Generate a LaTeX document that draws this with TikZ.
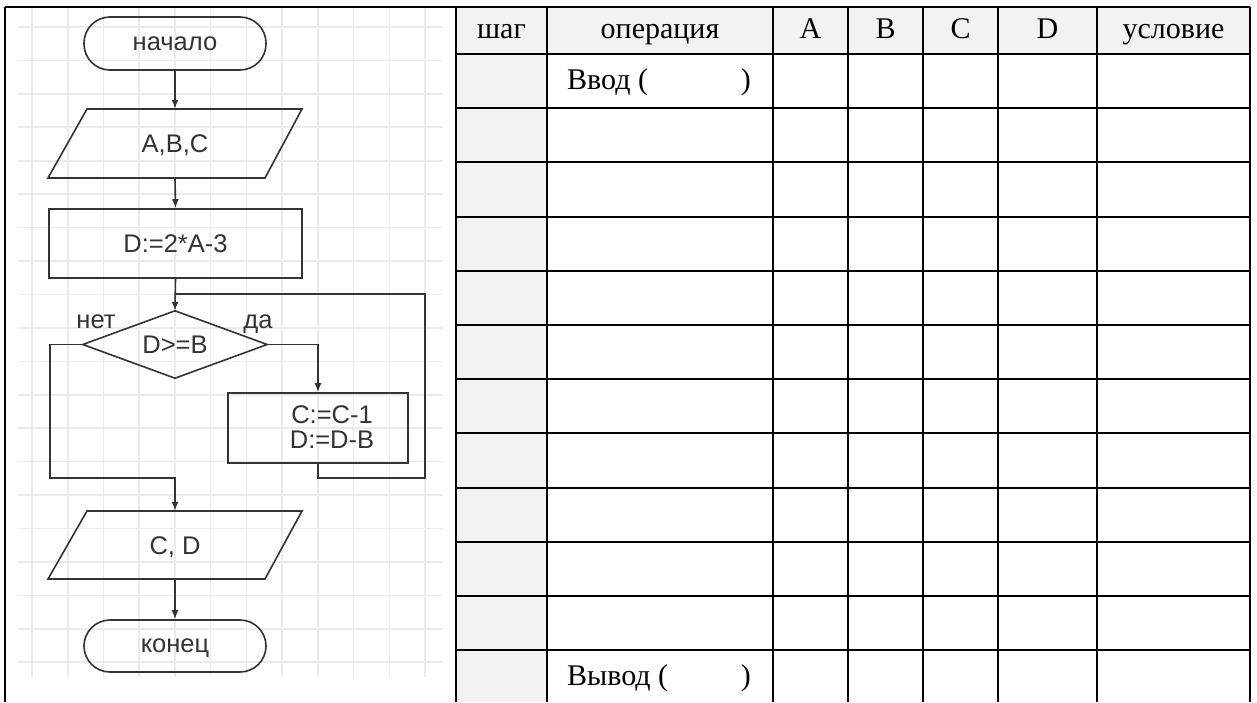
\documentclass[tikz,border=0pt]{standalone}
\usepackage{fontspec}
\setmainfont{Liberation Serif}
\newfontfamily\flowfont{Liberation Sans}
\usetikzlibrary{arrows.meta,calc}
\definecolor{gridc}{HTML}{EBEBEB}
\definecolor{ink}{HTML}{333333}
\definecolor{hdr}{HTML}{F2F2F2}
\begin{document}
\begin{tikzpicture}[x=1pt,y=-1pt,
  fc/.style={draw=ink, line width=1.6pt, text=ink, font=\flowfont\fontsize{25.5}{25}\selectfont, inner sep=0pt},
  term/.style={fc, rectangle, rounded corners=26pt, minimum width=182pt, minimum height=53pt},
  procbox/.style={fc, rectangle},
  ftxt/.style={draw=none, inner sep=0pt, text=ink, font=\flowfont\fontsize{25.5}{25}\selectfont},
  shp/.style={draw=ink, line width=1.6pt},
  flow/.style={draw=ink, line width=1.6pt, -{Latex[length=9pt,width=7pt]}},
  gridln/.style={draw=gridc, line width=1.6pt},
  tabln/.style={draw=black, line width=2pt},
  ttxt/.style={inner sep=0pt, font=\fontsize{30}{32}\selectfont},
]
\useasboundingbox (0,0) rectangle (1257,702);
% table shading
\fill[hdr] (456,7) rectangle (1250,54);
\fill[hdr] (456,54) rectangle (547,702);
% background grid of flowchart
\foreach \i in {0,...,11} \draw[gridln] ({32+35.73*\i},8) -- ({32+35.73*\i},677);
\foreach \j in {0,...,19} \draw[gridln] (18,{27+33.43*\j}) -- (443,{27+33.43*\j});
% table lines
\draw[tabln] (5,7) -- (1250,7);
\draw[tabln] (5,7) -- (5,702);
\foreach \x in {456,547,773,848,923,998,1097,1250} \draw[tabln] (\x,7) -- (\x,702);
\foreach \y in {54,108.2,162.4,216.6,270.8,325,379.2,433.4,487.6,541.8,596,650.2} \draw[tabln] (456,\y) -- (1250,\y);
% header
\node[ttxt, anchor=base] (h1) at (501.5,38) {шаг};
\node[ttxt, anchor=base] (h2) at (660,38) {операция};
\node[ttxt, anchor=base] (h3) at (810.5,38) {A};
\node[ttxt, anchor=base] (h4) at (885.5,38) {B};
\node[ttxt, anchor=base] (h5) at (960.5,38) {C};
\node[ttxt, anchor=base] (h6) at (1047.5,38) {D};
\node[ttxt, anchor=base] (h7) at (1173.5,38) {условие};
\node[ttxt, anchor=base west] (in1) at (567,89) {Ввод (};
\node[ttxt, anchor=base east] (in2) at (751,89) {)};
\node[ttxt, anchor=base west] (out1) at (567,685) {Вывод (};
\node[ttxt, anchor=base east] (out2) at (751,685) {)};
% flowchart
\node[term, text height=13pt, text depth=0pt] (start) at (175,43.5) {начало};
\node[ftxt, minimum width=215pt, minimum height=69pt, text height=18pt, text depth=0pt] (abc) at (175,143.5) {A,B,C};
\draw[shp] (87,109) -- (302,109) -- (265,178) -- (48,178) -- cycle;
\node[procbox, minimum width=253pt, minimum height=69pt, text height=18pt, text depth=0pt] (calc) at (175.5,243.5) {D:=2*A-3};
\node[ftxt, minimum width=184pt, minimum height=67pt, text height=18pt, text depth=0pt] (cond) at (175,344.5) {D>=B};
\draw[shp] (cond.north) -- (cond.east) -- (cond.south) -- (cond.west) -- cycle;
\node[ftxt, anchor=base] (no) at (96,328) {нет};
\node[ftxt, anchor=base] (yes) at (258,328) {да};
\node[procbox, minimum width=180pt, minimum height=70pt] (body) at (318,428) {};
\node[ftxt, align=center] (bodytxt) at (332,427) {C:=C-1\\D:=D-B};
\node[ftxt, minimum width=215pt, minimum height=68pt, text height=18pt, text depth=0pt] (outp) at (175,545) {C, D};
\draw[shp] (87,511) -- (302,511) -- (265,579) -- (48,579) -- cycle;
\node[term, minimum height=52pt, text height=13pt, text depth=0pt] (stop) at (175,646) {конец};
% connectors
\coordinate (join) at (175,294);
\coordinate (loopR) at (425,478);
\coordinate (noL) at (50,478);
\draw[flow] (start.south) -- (abc.north);
\draw[flow] (abc.south) -- (calc.north);
\draw[flow] (calc.south) -- (cond.north);
\draw[shp] (body.south) |- (loopR) |- (join);
\draw[flow] (cond.east) -| (body.north);
\draw[flow] (cond.west) -| (noL) -| (outp.north);
\draw[flow] (outp.south) -- (stop.north);
\end{tikzpicture}
\end{document}
